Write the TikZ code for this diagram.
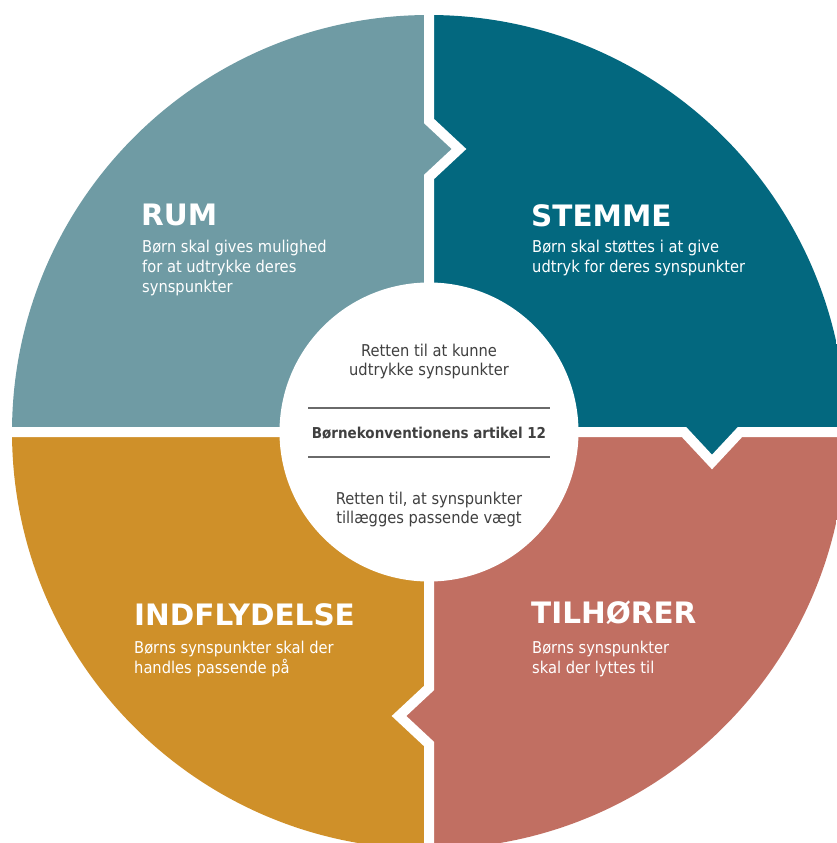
\documentclass[tikz,border=0pt]{standalone}
\usepackage{fontspec}
\setmainfont{DejaVu Sans}[FakeStretch=0.9]
\newfontfamily\titlefont{DejaVu Sans}
\definecolor{rumcol}{HTML}{6F9BA4}
\definecolor{stemmecol}{HTML}{03687F}
\definecolor{tilhcol}{HTML}{C16F62}
\definecolor{indflcol}{HTML}{CF9029}
\definecolor{midtext}{HTML}{404040}
\definecolor{midrule}{HTML}{6A6A6A}
\tikzstyle{gapline} = [draw=white, line width=10pt, line join=miter]
\tikzstyle{quadtitle} = [anchor=base west, inner sep=0pt, text=white,
    font=\titlefont\fontsize{29.5}{32}\selectfont\bfseries]
\tikzstyle{quadtext} = [anchor=base west, inner sep=0pt, text=white, align=left,
    font=\fontsize{16.3}{20}\selectfont]
\tikzstyle{midtxt} = [anchor=base, inner sep=0pt, text=midtext, align=center,
    font=\fontsize{16.3}{19}\selectfont]
\begin{document}
\begin{tikzpicture}[x=1pt,y=-1pt]
\useasboundingbox (0,0) rectangle (837,843);
\coordinate (c) at (429,432);
% quadrants, clipped to the big circle
\begin{scope}
\clip (c) circle[radius=417pt];
\fill[rumcol] (-10,-10) -- (429,-10) -- (429,121) -- (459,149) -- (429,177)
    -- (c) -- (-10,432) -- cycle;
\fill[stemmecol] (429,-10) -- (850,-10) -- (850,432) -- (740,432) -- (712,462)
    -- (684,432) -- (c) -- (429,177) -- (459,149) -- (429,121) -- cycle;
\fill[tilhcol] (c) -- (684,432) -- (712,462) -- (740,432) -- (850,432)
    -- (850,850) -- (429,850) -- (429,744) -- (399,716) -- (429,688) -- cycle;
\fill[indflcol] (-10,432) -- (c) -- (429,688) -- (399,716) -- (429,744)
    -- (429,850) -- (-10,850) -- cycle;
\end{scope}
% white gaps
\draw[gapline] (429,-10) -- (429,121) -- (459,149) -- (429,177) -- (429,688)
    -- (399,716) -- (429,744) -- (429,850);
\draw[gapline] (-10,432) -- (684,432) -- (712,462) -- (740,432) -- (850,432);
% centre disc
\fill[white] (c) circle[radius=149.5pt];

\node[quadtitle] (rum) at (141,225) {RUM};
\node[quadtext] (rumtxt) at (142,292) {Børn skal gives mulighed\\for at udtrykke deres\\synspunkter};
\node[quadtitle] (stemme) at (531,226) {STEMME};
\node[quadtext] (stemmetxt) at (532,272) {Børn skal støttes i at give\\udtryk for deres synspunkter};
\node[quadtitle] (indfl) at (134,625) {INDFLYDELSE};
\node[quadtext] (indfltxt) at (134,673) {Børns synspunkter skal der\\handles passende på};
\node[quadtitle] (tilh) at (531,623.5) {TILHØRER};
\node[quadtext] (tilhtxt) at (532,673) {Børns synspunkter\\skal der lyttes til};

\node[midtxt] (ret1) at (429,375) {Retten til at kunne\\udtrykke synspunkter};
\node[midtxt, font=\fontsize{15}{18}\selectfont\bfseries] (art) at (429,438) {Børnekonventionens artikel 12};
\node[midtxt] (ret2) at (429,523) {Retten til, at synspunkter\\tillægges passende vægt};
\draw[midrule, line width=1.2pt] (308,408) -- (550,408);
\draw[midrule, line width=1.2pt] (308,457) -- (550,457);
\end{tikzpicture}
\end{document}
